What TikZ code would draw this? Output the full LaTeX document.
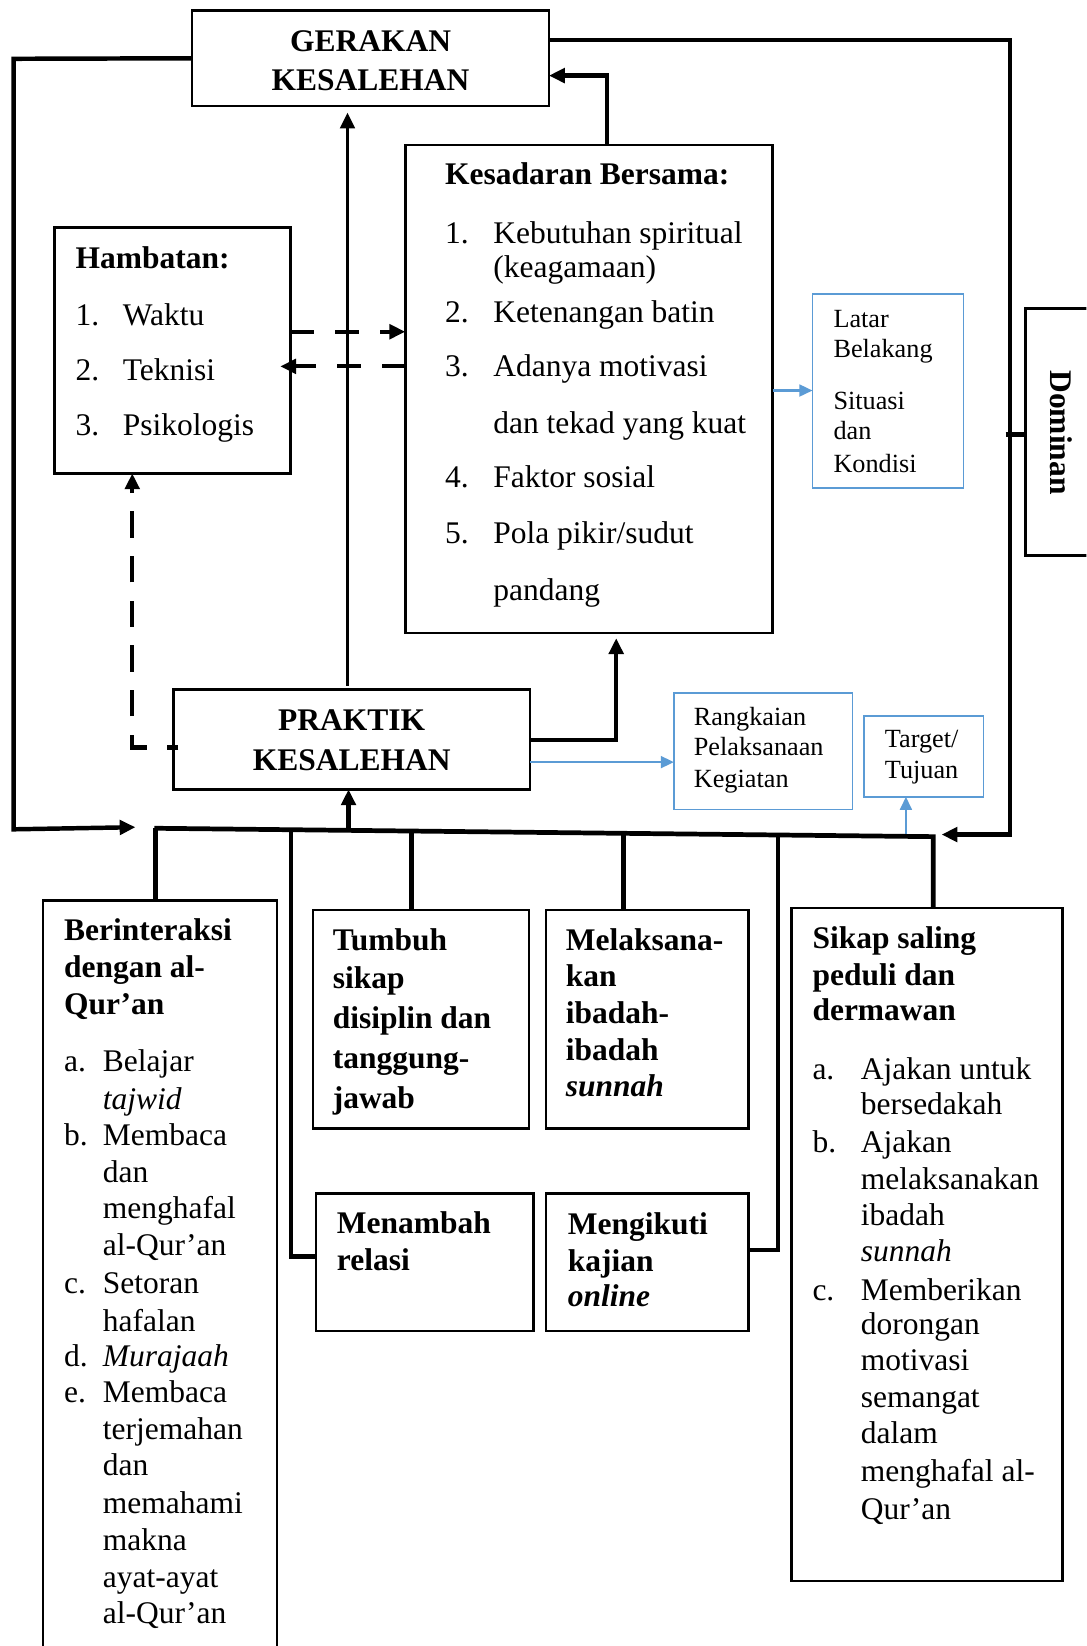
\documentclass[tikz,border=0pt]{standalone}
\usepackage{fontspec}
\setmainfont{Liberation Serif}
\usetikzlibrary{arrows.meta,fit}
\definecolor{bl}{HTML}{5B9BD5}
\newcommand\nm[2]{\makebox[#1][l]{#2}}
\tikzset{
  box/.style={draw, line width=1pt, inner sep=0pt, outer sep=0pt},
  bbox/.style={draw=bl, line width=0.6pt, inner sep=0pt, outer sep=0pt},
  txt/.style={inner sep=0pt, outer sep=0pt, anchor=base west, font=\fontsize{12}{14}\selectfont},
  btxt/.style={txt, font=\fontsize{12}{14}\selectfont\bfseries},
  stxt/.style={txt, font=\fontsize{10}{12}\selectfont},
  conn/.style={line width=1.7pt},
  arr/.style={conn, -{Triangle[length=6pt,width=5.5pt]}},
  dsh/.style={line width=1.6pt, dash pattern=on 9pt off 8pt, -{Triangle[length=6pt,width=5.5pt]}},
  barr/.style={draw=bl, line width=0.9pt, -{Triangle[length=5pt,width=4.5pt]}},
}
\begin{document}
\begin{tikzpicture}[x=0.4pt,y=-0.4pt]
\clip (0,0) rectangle (1035,1568);
\fill[white] (0,0) rectangle (1035,1568);
% ---------------- boxes
\node[box, fit={(183,10) (523,101)}] (ger) {};
\node[box, fit={(386,138) (736,603)}] (kes) {};
\node[box, fit={(52,217) (277,451)}] (ham) {};
\node[bbox, fit={(774,280) (918,465)}] (lat) {};
\node[box, fit={(977,294) (1045,529)}] (dom) {};
\node[box, fit={(165,657) (505,752)}] (prak) {};
\node[bbox, fit={(642,660) (812,771)}] (rang) {};
\node[bbox, fit={(823,682) (937,759)}] (tar) {};
\node[box, fit={(41,858) (264,1580)}] (ber) {};
\node[box, fit={(298,867) (504,1075)}] (tum) {};
\node[box, fit={(520,867) (713,1075)}] (mel) {};
\node[box, fit={(301,1137) (508,1268)}] (men) {};
\node[box, fit={(520,1137) (713,1268)}] (mik) {};
\node[box, fit={(754,865) (1012,1506)}] (sik) {};
% ---------------- texts
\node[btxt, anchor=base] (g1) at (353,49) {GERAKAN};
\node[btxt, anchor=base] (g2) at (353,86) {KESALEHAN};
\node[btxt, anchor=base] (p1) at (335,696) {PRAKTIK};
\node[btxt, anchor=base] (p2) at (335,734) {KESALEHAN};
\node[btxt, anchor=center, rotate=-90] (d1) at (1011,412) {Dominan};

\node[btxt] (k0) at (424,176) {Kesadaran Bersama:};
\node[txt] (k1) at (424,232) {\nm{18.4pt}{1.}Kebutuhan spiritual};
\node[txt] (k2) at (470,264) {(keagamaan)};
\node[txt] (k3) at (424,307) {\nm{18.4pt}{2.}Ketenangan batin};
\node[txt] (k4) at (424,359) {\nm{18.4pt}{3.}Adanya motivasi};
\node[txt] (k5) at (470,413) {dan tekad yang kuat};
\node[txt] (k6) at (424,464) {\nm{18.4pt}{4.}Faktor sosial};
\node[txt] (k7) at (424,518) {\nm{18.4pt}{5.}Pola pikir/sudut};
\node[txt] (k8) at (470,572) {pandang};

\node[btxt] (h0) at (72,256) {Hambatan:};
\node[txt] (h1) at (72,310) {\nm{18pt}{1.}Waktu};
\node[txt] (h2) at (72,362) {\nm{18pt}{2.}Teknisi};
\node[txt] (h3) at (72,415) {\nm{18pt}{3.}Psikologis};

\node[stxt] (l1) at (794,312) {Latar};
\node[stxt] (l2) at (794,341) {Belakang};
\node[stxt] (l3) at (794,390) {Situasi};
\node[stxt] (l4) at (794,419) {dan};
\node[stxt] (l5) at (794,450) {Kondisi};

\node[stxt] (r1) at (661,691) {Rangkaian};
\node[stxt] (r2) at (661,720) {Pelaksanaan};
\node[stxt] (r3) at (661,750) {Kegiatan};

\node[stxt] (t1) at (843,712) {Target/};
\node[stxt] (t2) at (843,742) {Tujuan};

\node[btxt] (b1) at (61,896) {Berinteraksi};
\node[btxt] (b2) at (61,931) {dengan al-};
\node[btxt] (b3) at (61,966) {Qur’an};
\node[txt] (b4) at (61,1021) {\nm{14.8pt}{a.}Belajar};
\node[txt] (b5) at (98,1057) {\textit{tajwid}};
\node[txt] (b6) at (61,1091) {\nm{14.8pt}{b.}Membaca};
\node[txt] (b7) at (98,1126) {dan};
\node[txt] (b8) at (98,1161) {menghafal};
\node[txt] (b9) at (98,1196) {al-Qur’an};
\node[txt] (b10) at (61,1232) {\nm{14.8pt}{c.}Setoran};
\node[txt] (b11) at (98,1268) {hafalan};
\node[txt] (b12) at (61,1302) {\nm{14.8pt}{d.}\textit{Murajaah}};
\node[txt] (b13) at (61,1336) {\nm{14.8pt}{e.}Membaca};
\node[txt] (b14) at (98,1371) {terjemahan};
\node[txt] (b15) at (98,1406) {dan};
\node[txt] (b16) at (98,1442) {memahami};
\node[txt] (b17) at (98,1477) {makna};
\node[txt] (b18) at (98,1512) {ayat-ayat};
\node[txt] (b19) at (98,1547) {al-Qur’an};

\node[btxt] (u1) at (317,905) {Tumbuh};
\node[btxt] (u2) at (317,942) {sikap};
\node[btxt] (u3) at (317,980) {disiplin dan};
\node[btxt] (u4) at (317,1018) {tanggung-};
\node[btxt] (u5) at (317,1056) {jawab};

\node[btxt] (m1) at (539,905) {Melaksana-};
\node[btxt] (m2) at (539,940) {kan};
\node[btxt] (m3) at (539,975) {ibadah-};
\node[btxt] (m4) at (539,1010) {ibadah};
\node[btxt] (m5) at (539,1045) {\textit{sunnah}};

\node[btxt] (n1) at (321,1175) {Menambah};
\node[btxt] (n2) at (321,1210) {relasi};

\node[btxt] (j1) at (541,1176) {Mengikuti};
\node[btxt] (j2) at (541,1211) {kajian};
\node[btxt] (j3) at (541,1245) {\textit{online}};

\node[btxt] (s1) at (774,904) {Sikap saling};
\node[btxt] (s2) at (774,939) {peduli dan};
\node[btxt] (s3) at (774,972) {dermawan};
\node[txt] (s4) at (774,1028) {\nm{18.4pt}{a.}Ajakan untuk};
\node[txt] (s5) at (820,1062) {bersedakah};
\node[txt] (s6) at (774,1098) {\nm{18.4pt}{b.}Ajakan};
\node[txt] (s7) at (820,1133) {melaksanakan};
\node[txt] (s8) at (820,1167) {ibadah};
\node[txt] (s9) at (820,1202) {\textit{sunnah}};
\node[txt] (s10) at (774,1239) {\nm{18.4pt}{c.}Memberikan};
\node[txt] (s11) at (820,1271) {dorongan};
\node[txt] (s12) at (820,1306) {motivasi};
\node[txt] (s13) at (820,1341) {semangat};
\node[txt] (s14) at (820,1375) {dalam};
\node[txt] (s15) at (820,1411) {menghafal al-};
\node[txt] (s16) at (820,1447) {Qur’an};
% ---------------- connector coordinates
\coordinate (lpEnd) at (129,788);
\coordinate (rpEnd) at (897,795);
\coordinate (busA) at (147,789);
\coordinate (busB) at (889,797);
\coordinate (bx1) at (148,789);
\coordinate (bx2) at (277,790.4);
\coordinate (bx3) at (332,791);
\coordinate (bx4) at (392,791.6);
\coordinate (bx5) at (594,793.8);
\coordinate (bx6) at (741,795.4);
\coordinate (bx7) at (863,796.7);
% ---------------- connectors
\draw[arr] (ger.west) -- (13,56) -- (13,790) -- (lpEnd);
\draw[arr] (ger.east |- 0,38) -- (962,38) -- (962,795) -- (rpEnd);
\draw[conn] (958,414) -- (dom.west |- 0,414);
\draw[arr] (kes.north -| 578,0) -- (578,72) -- (ger.east |- 0,72);
\draw[line width=1.3pt, -{Triangle[length=6pt,width=5.5pt]}, shorten >=2.5pt, shorten <=1.5pt] (prak.north -| 331,0) -- (ger.south -| 331,0);
\draw[dsh] (ham.east |- 0,316) -- (kes.west |- 0,316);
\draw[dsh, shorten >=-4pt] (kes.west |- 0,349) -- (ham.east |- 0,349);
\draw[dsh, shorten <=-2pt, dash pattern=on 4.4pt off 7.6pt on 10.5pt off 7pt on 10pt off 7pt on 10pt off 7pt on 10pt off 7pt on 10pt off 7pt on 10pt off 7pt on 10pt off 7pt on 60pt]
  (prak.west |- 0,712) -- (126,712) -- (ham.south -| 126,0);
\draw[arr, shorten >=2pt] (prak.east |- 0,705) -- (587,705) -- (kes.south -| 587,0);
\draw[barr] (prak.east |- 0,726) -- (rang.west |- 0,726);
\draw[barr] (kes.east |- 0,372) -- (lat.west |- 0,372);
\draw[barr] (bx7) -- (tar.south -| bx7);
\draw[line width=1.8pt] (busA) -- (busB) -- (sik.north -| busB);
\draw[conn] (bx1) -- (ber.north -| bx1);
\draw[conn] (bx2) -- (277,1197) -- (men.west |- 0,1197);
\draw[conn] (bx4) -- (tum.north -| bx4);
\draw[conn] (bx5) -- (mel.north -| bx5);
\draw[conn] (bx6) -- (741,1191) -- (mik.east |- 0,1191);
\draw[arr] (bx3) -- (prak.south -| bx3);
\end{tikzpicture}
\end{document}
